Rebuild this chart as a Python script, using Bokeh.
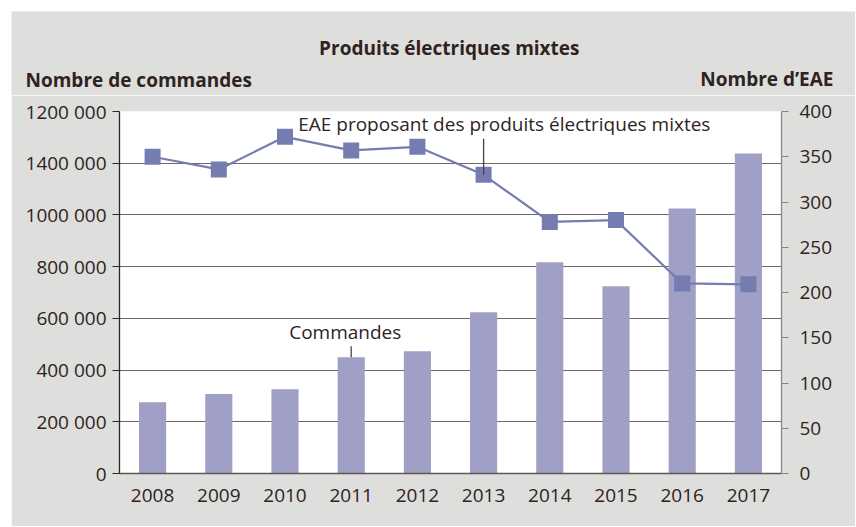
from bokeh.plotting import figure
from bokeh.layouts import column
from bokeh.models import (Range1d, FactorRange, LinearAxis, FixedTicker, Label,
                          ColumnDataSource)
from bokeh.embed import file_html
from bokeh.resources import INLINE

# ---- data ----
years = ["2008", "2009", "2010", "2011", "2012", "2013", "2014", "2015", "2016", "2017"]
commandes = [276000, 307000, 326000, 450000, 473000, 624000, 817000, 724000, 1025000, 1238000]
eae = [350, 336, 372, 357, 361, 330, 278, 280, 210, 209]

left_ticks = [0, 200000, 400000, 600000, 800000, 1000000, 1200000, 1400000]
left_tick_labels = ["0", "200 000", "400 000", "600 000", "800 000", "1000 000", "1400 000", "1200 000"]
right_ticks = [0, 50, 100, 150, 200, 250, 300, 350, 400]

title_text = "Produits électriques mixtes"
left_title = "Nombre de commandes"
right_title = "Nombre d’EAE"
bar_label = "Commandes"
line_label = "EAE proposant des produits électriques mixtes"

# ---- styles ----
FONT = "Open Sans"
TXT = "#2e231e"
BG = "#dededc"
BAR = "#a09fc6"
LINE = "#747cb0"
GRID = "#6e6763"
W = 844
TOP_H = 84

# ---- header strip (titles) ----
top = figure(width=W, height=TOP_H, x_range=Range1d(0, W), y_range=Range1d(0, TOP_H),
             output_backend="svg", toolbar_location=None, margin=(11, 0, 0, 11),
             min_border=0, x_axis_type=None, y_axis_type=None)
top.border_fill_color = BG
top.background_fill_color = BG
top.outline_line_color = None
top.grid.visible = False

def tlab(text, x, y, align):
    top.add_layout(Label(x=x, y=y, text=text, text_font=FONT, text_font_size="19px",
                         text_color=TXT, text_align=align, text_baseline="alphabetic",
                         text_font_style="bold"))

tlab(title_text, 437.8, 48, "center")
tlab(left_title, 14, 16, "left")
tlab(right_title, 822, 16.5, "right")

# ---- main chart ----
p = figure(width=W, height=431, x_range=FactorRange(*years, range_padding=0),
           y_range=Range1d(0, 1400000), output_backend="svg", toolbar_location=None,
           margin=(0, 0, 0, 11),
           min_border_left=108, min_border_right=74, min_border_top=16, min_border_bottom=53)

for fig in (top, p):
    try:
        fig.frame_align = False
    except Exception:
        pass

p.extra_y_ranges = {"right": Range1d(0, 400)}
p.border_fill_color = BG
p.background_fill_color = "white"
p.outline_line_color = None
p.xgrid.grid_line_color = None
p.ygrid.ticker = FixedTicker(ticks=left_ticks)
p.ygrid.grid_line_color = GRID
p.ygrid.grid_line_width = 1.2

ya = p.yaxis[0]
ya.ticker = FixedTicker(ticks=left_ticks)
ya.major_label_overrides = {t: l for t, l in zip(left_ticks, left_tick_labels)}
ya.axis_line_color = TXT
ya.axis_line_width = 1.3
ya.major_tick_line_color = TXT
ya.major_tick_out = 7
ya.major_tick_in = 0
ya.minor_tick_line_color = None
ya.major_label_standoff = 6
ya.major_label_text_font = FONT
ya.major_label_text_font_size = "19px"
ya.major_label_text_color = TXT

ra = LinearAxis(y_range_name="right", ticker=FixedTicker(ticks=right_ticks))
ra.axis_line_color = "#8d8783"
ra.axis_line_width = 1.3
ra.major_tick_line_color = "#8d8783"
ra.major_tick_out = 7
ra.major_tick_in = 0
ra.minor_tick_line_color = None
ra.major_label_standoff = 11
ra.major_label_text_font = FONT
ra.major_label_text_font_size = "19px"
ra.major_label_text_color = TXT
p.add_layout(ra, "right")

xa = p.xaxis[0]
xa.axis_line_color = "#5e5753"
xa.axis_line_width = 1.3
xa.major_tick_line_color = None
xa.major_tick_out = 0
xa.minor_tick_line_color = None
xa.major_label_standoff = 15
xa.major_label_text_font = FONT
xa.major_label_text_font_size = "19px"
xa.major_label_text_color = TXT

src = ColumnDataSource(dict(years=years, commandes=commandes, eae=eae))
p.vbar(x="years", top="commandes", width=0.41, source=src, fill_color=BAR, line_color=None)
p.line(x="years", y="eae", source=src, y_range_name="right", line_color=LINE, line_width=2.2)
p.scatter(x="years", y="eae", source=src, y_range_name="right", marker="square", size=16,
          fill_color=LINE, line_color=None)

# leader lines
p.segment(x0=[years[3]], y0=[492000], x1=[years[3]], y1=[commandes[3]],
          line_color="#4a423e", line_width=1.3)
p.segment(x0=[years[5]], y0=[370], x1=[years[5]], y1=[eae[5]], y_range_name="right",
          line_color="#4a423e", line_width=1.3)

def lab(text, x, y):
    p.add_layout(Label(x=x, y=y, x_units="screen", y_units="screen", text=text,
                       text_font=FONT, text_font_size="19px", text_color=TXT,
                       text_align="left", text_baseline="alphabetic"))

lab(bar_label, 169.7, 142)
lab(line_label, 178.7, 350)

layout = column(top, p, spacing=0)
open("out.html", "w").write(file_html(layout, INLINE))
